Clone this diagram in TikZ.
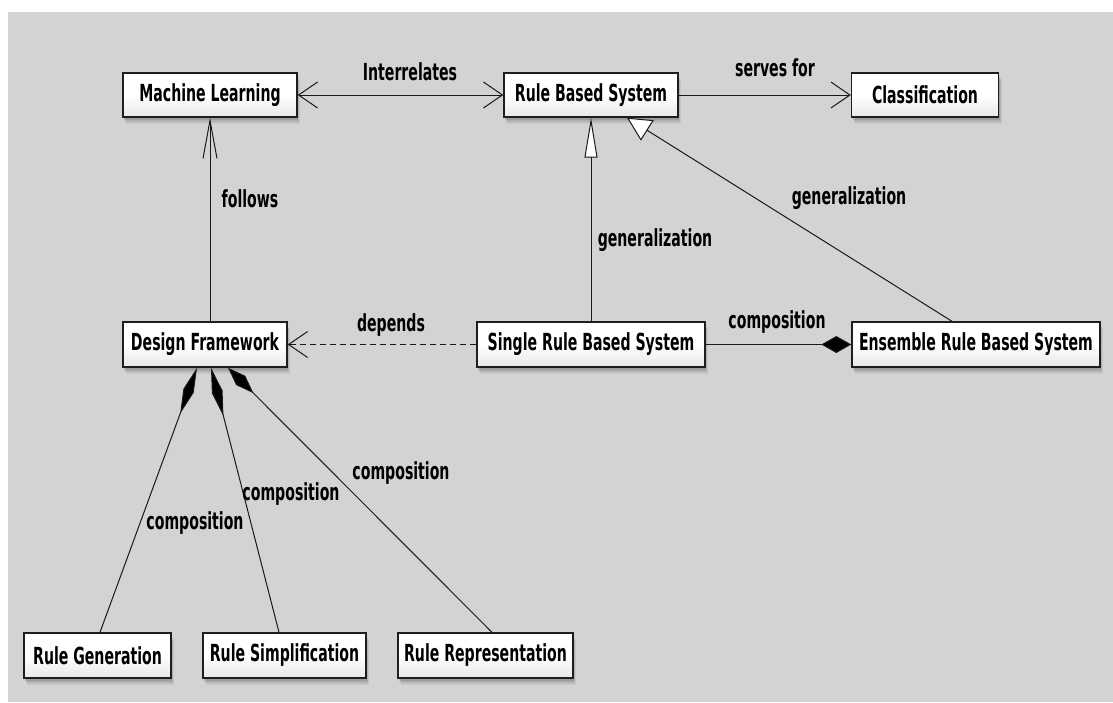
\documentclass[tikz,border=0pt]{standalone}
\usepackage{fontspec}
\newfontfamily\umlfont{DejaVu Sans}[FakeStretch=0.6]
\usetikzlibrary{arrows.meta,shadows}
\definecolor{canvasgray}{RGB}{211,211,211}
\definecolor{boxline}{RGB}{30,30,30}
\begin{document}
\begin{tikzpicture}[x=1pt,y=-1pt,
  font=\umlfont\bfseries\fontsize{23.5}{26}\selectfont,
  umlbox/.style={draw=boxline, line width=1.4pt, inner sep=0pt,
    minimum height=44pt, top color=white, bottom color=black!9, middle color=white,
    drop shadow={shadow xshift=1pt, shadow yshift=-3pt, opacity=0.12, fill=black},
    drop shadow={shadow xshift=2pt, shadow yshift=-5pt, opacity=0.10, fill=black},
    drop shadow={shadow xshift=3pt, shadow yshift=-7pt, opacity=0.06, fill=black}},
  link/.style={draw=black!90, line width=1pt},
  lbl/.style={inner sep=0pt, text=black},
  veeH/.style={-{Straight Barb[length=19pt,width=26pt,line width=1pt]}},
  veeV/.style={-{Straight Barb[length=38pt,width=14pt,line width=1pt]}},
]
\useasboundingbox (0,0) rectangle (1113,702);
\fill[white] (0,0) rectangle (1113,702);
\fill[canvasgray] (8,12) rectangle (1113,702);

% classes
\node[umlbox, minimum width=174pt] (ml)   at (210,95)    {Machine Learning};
\node[umlbox, minimum width=174pt] (rbs)  at (591,95)    {Rule Based System};
\node[umlbox, minimum width=147pt] (cl)   at (925,95)    {Classification};
\node[umlbox, minimum width=164pt, minimum height=45pt] (df)   at (205,344.5) {Design Framework};
\node[umlbox, minimum width=228pt, minimum height=45pt] (srbs) at (591,344.5) {Single Rule Based System};
\node[umlbox, minimum width=248pt, minimum height=45pt] (erbs) at (976,344.5) {Ensemble Rule Based System};
\node[umlbox, minimum width=147pt, minimum height=45pt] (rg)   at (97.5,655.5)  {Rule Generation};
\node[umlbox, minimum width=163pt, minimum height=45pt] (rs)   at (284.5,655.5) {Rule Simplification};
\node[umlbox, minimum width=175pt, minimum height=45pt] (rr)   at (485.5,655.5) {Rule Representation};

% associations
\draw[link, {Straight Barb[length=19pt,width=26pt,line width=1pt]}-{Straight Barb[length=19pt,width=26pt,line width=1pt]}]
  (ml.east) -- (rbs.west);
\draw[link, veeH] (rbs.east) -- (cl.west);
\draw[link, veeV] (ml.south |- df.north) -- (ml.south);
\draw[link, veeH, line width=1.2pt, dash pattern=on 6pt off 4pt] (srbs.west) -- (df.east);

% generalizations
\draw[link, -{Triangle[length=40pt,width=13pt,fill=white]}] (srbs.north) -- (rbs.south);
\draw[link, -{Triangle[length=24pt,width=24pt,fill=white]}]
  ([xshift=-24pt]erbs.north) -- ([xshift=36pt]rbs.south);

% compositions
\draw[link, -{Diamond[length=30pt,width=17pt,fill=black]}] (srbs.east) -- (erbs.west);
\draw[link, -{Diamond[length=49pt,width=11pt,fill=black]}] ([xshift=2.5pt]rg.north) -- ([xshift=-8pt]df.south);
\draw[link, -{Diamond[length=50pt,width=11pt,fill=black]}] ([xshift=-5.5pt]rs.north) -- ([xshift=6pt]df.south);
\draw[link, -{Diamond[length=36pt,width=13pt,fill=black]}] ([xshift=6.5pt]rr.north) -- ([xshift=23pt]df.south);

% labels
\node[lbl] (tInter) at (410,72)  {Interrelates};
\node[lbl] (tServe) at (775,68)  {serves for};
\node[lbl] (tFollow) at (250,199) {follows};
\node[lbl] (tGen1) at (655,240) {generalization};
\node[lbl] (tGen2) at (849,198) {generalization};
\node[lbl] (tDep) at (391,325) {depends};
\node[lbl] (tComp0) at (777,322) {composition};
\node[lbl] (tComp1) at (195,523) {composition};
\node[lbl] (tComp2) at (291,494) {composition};
\node[lbl] (tComp3) at (401,473) {composition};
\end{tikzpicture}
\end{document}
